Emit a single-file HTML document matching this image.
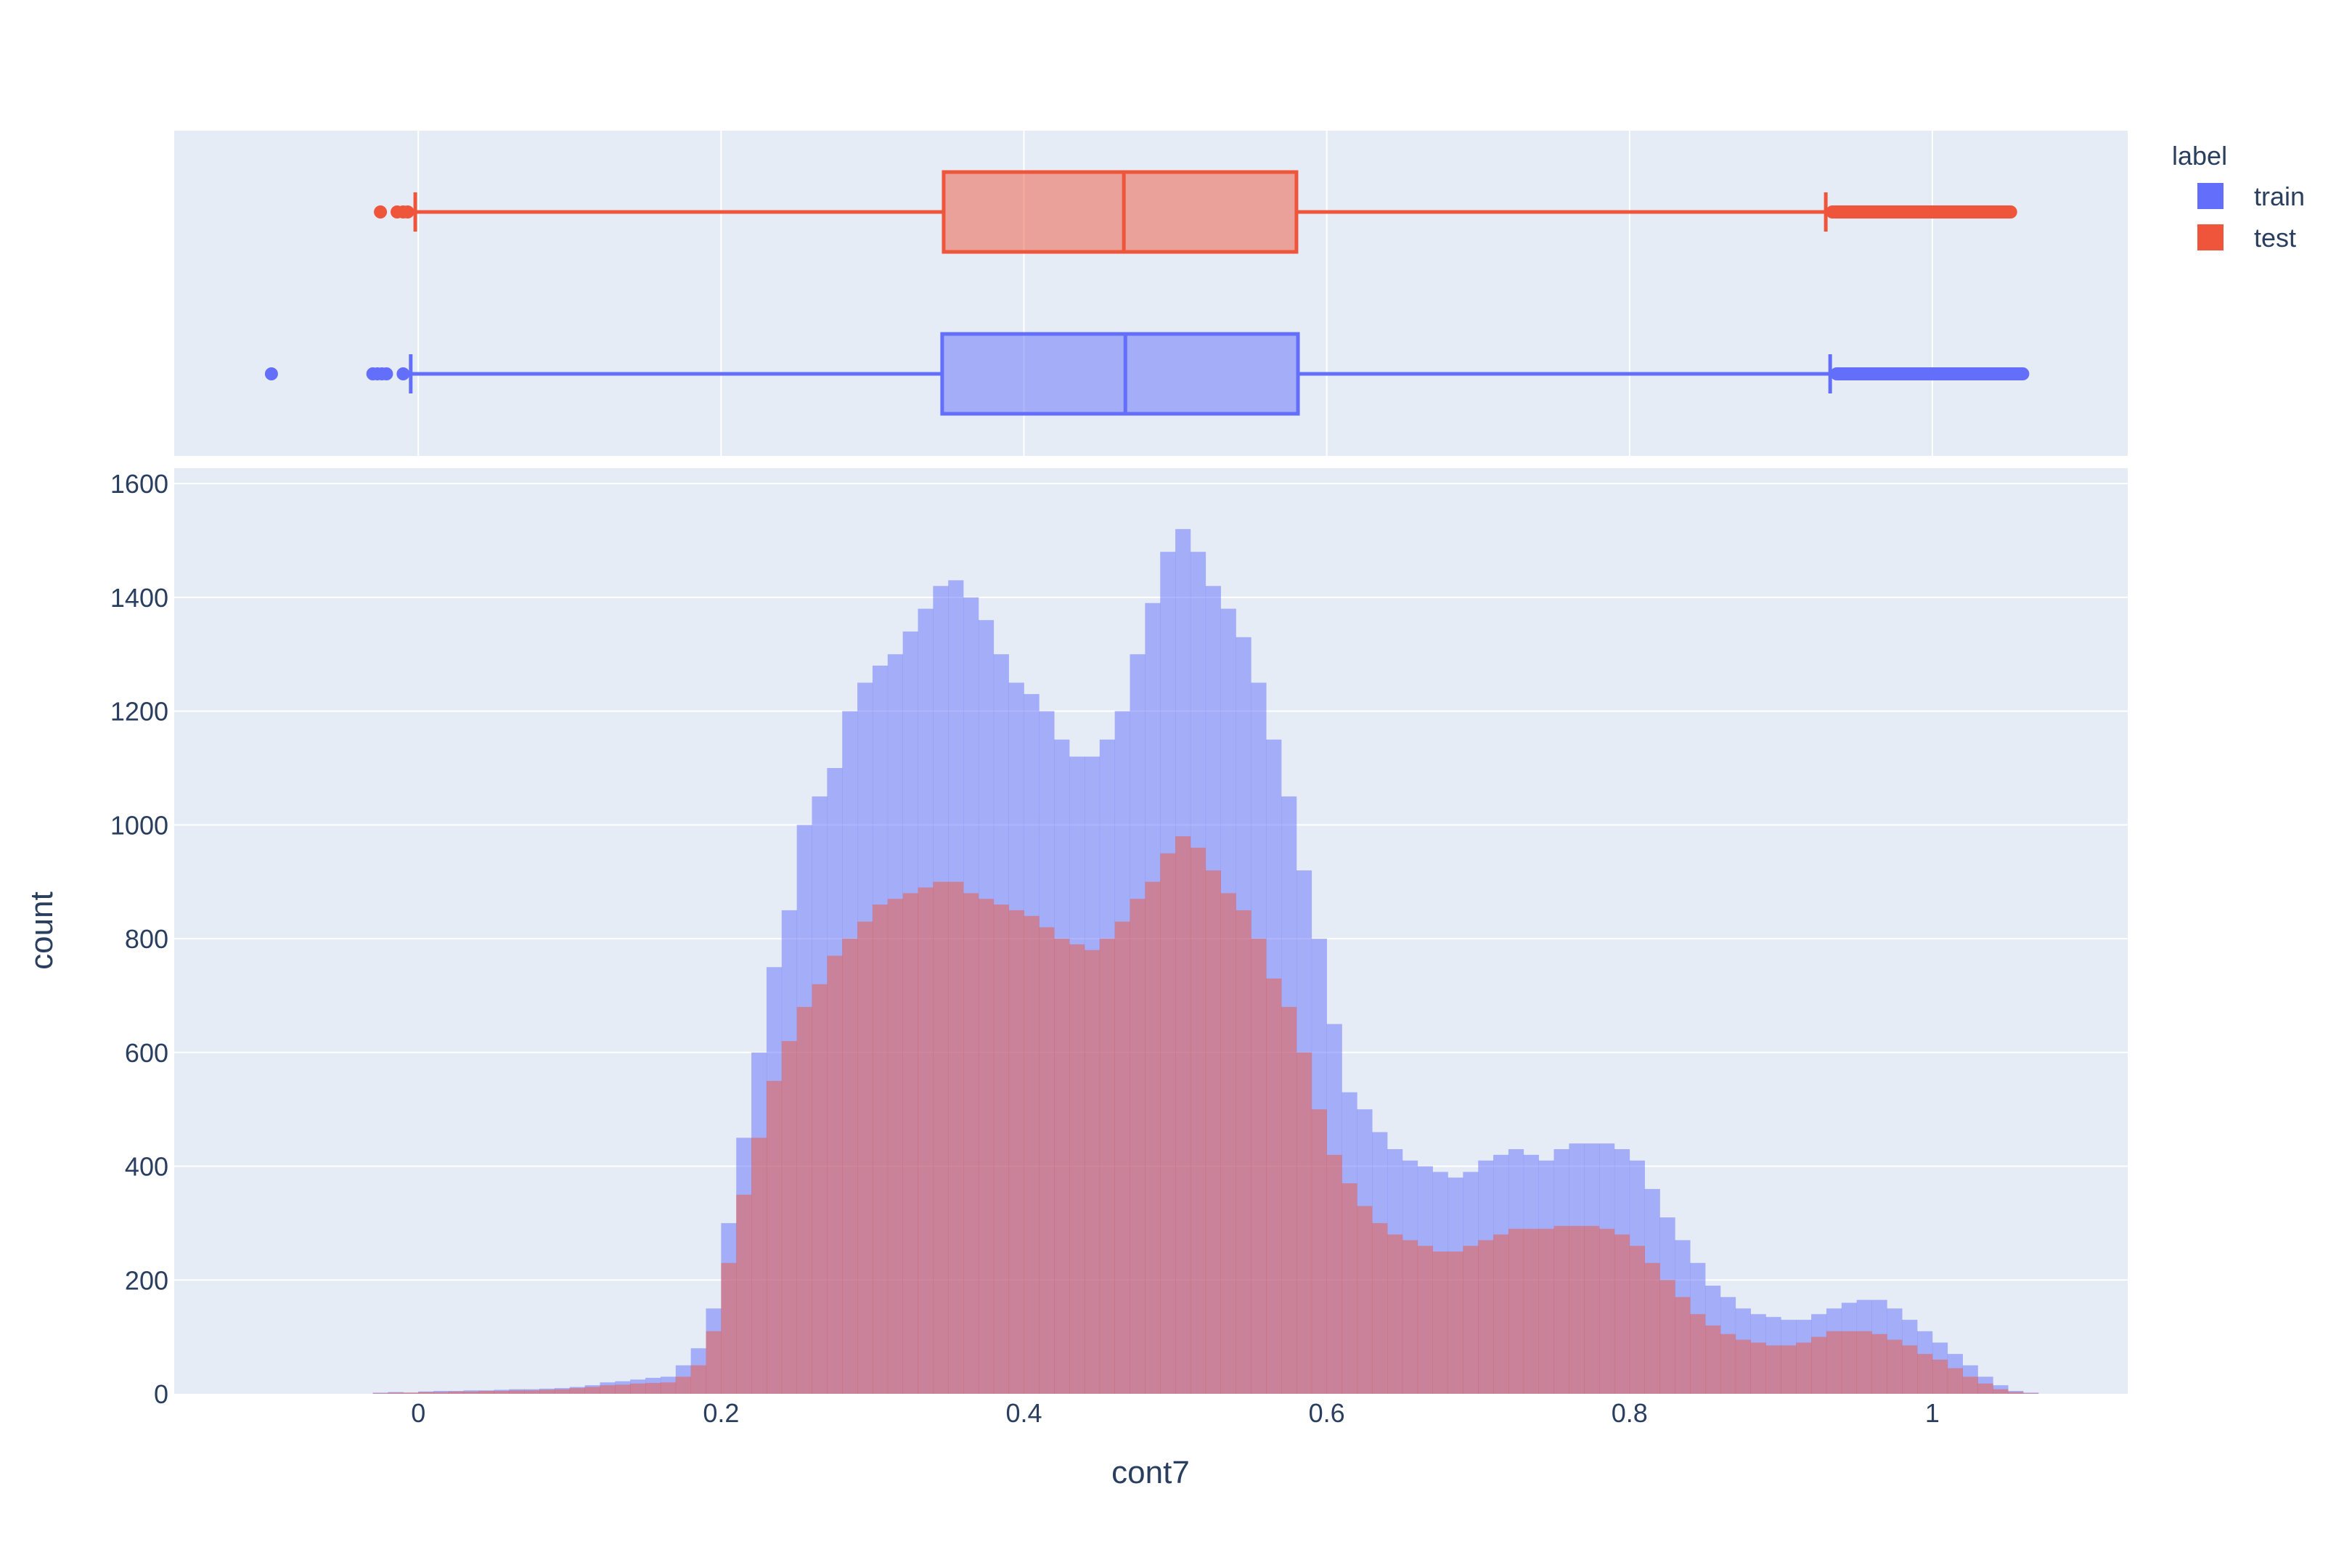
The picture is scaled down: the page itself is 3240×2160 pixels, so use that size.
<!DOCTYPE html>
<html><head><meta charset="utf-8"><style>
html,body{margin:0;padding:0;background:#fff;}
svg{display:block;font-family:"Liberation Sans","DejaVu Sans",sans-serif;}
</style></head>
<body>
<svg id="chart" width="3240" height="2160" viewBox="0 0 3240 2160" xmlns="http://www.w3.org/2000/svg">
<rect x="0" y="0" width="3240" height="2160" fill="#fff"/>
<rect x="240" y="180" width="2691" height="448" fill="#E5ECF6"/>
<rect x="240" y="645" width="2691" height="1275" fill="#E5ECF6"/>
<g id="grid"></g>
<g id="hist"></g>
<g id="boxes"></g>
<g id="axes"></g>
<text x="1585" y="2043" font-size="44" fill="#2a3f5f" text-anchor="middle">cont7</text>
<text transform="translate(72,1282) rotate(-90)" font-size="44" fill="#2a3f5f" text-anchor="middle">count</text>
<g>
<text x="2992" y="227" font-size="36" fill="#2a3f5f">label</text>
<g>
<rect x="3027" y="252" width="36" height="36" fill="#636efa"/>
<text x="3105" y="283" font-size="36" fill="#2a3f5f">train</text>
</g>
<g>
<rect x="3027" y="309" width="36" height="36" fill="#EF553B"/>
<text x="3105" y="340" font-size="36" fill="#2a3f5f">test</text>
</g>
</g>
</svg>
<script>
// ---- data ----
const binStart = -0.03;
const binWidth = 0.01;
const trainCounts = [2,3,2,4,5,5,6,6,7,8,8,9,10,12,15,20,22,25,28,30,50,80,150,300,450,600,750,850,1000,1050,1100,1200,1250,1280,1300,1340,1380,1420,1430,1400,1360,1300,1250,1230,1200,1150,1120,1120,1150,1200,1300,1390,1480,1520,1480,1420,1380,1330,1250,1150,1050,920,800,650,530,500,460,430,410,400,390,380,390,410,420,430,420,410,430,440,440,440,430,410,360,310,270,230,190,170,150,140,135,130,130,140,150,160,165,165,150,130,110,90,70,50,30,15,5,2];
const testCounts = [1,2,2,3,3,4,4,5,5,6,6,7,8,10,12,15,16,18,19,20,30,50,110,230,350,450,550,620,680,720,770,800,830,860,870,880,890,900,900,880,870,860,850,840,820,800,790,780,800,830,870,900,950,980,960,920,880,850,800,730,680,600,500,420,370,330,300,280,270,260,250,250,260,270,280,290,290,290,295,295,295,290,280,260,230,200,170,140,120,105,95,90,85,85,90,100,110,110,110,105,95,85,70,60,45,30,18,8,3,1];
const xTicks = [0,0.2,0.4,0.6,0.8,1];
const xTickLabels = ["0","0.2","0.4","0.6","0.8","1"];
const yTicks = [0,200,400,600,800,1000,1200,1400,1600];
// box stats: [lowerFence, q1, median, q3, upperFence]
const trainBox = [-0.005,0.346,0.467,0.581,0.9325];
const testBox = [-0.002,0.347,0.466,0.580,0.9296];
const trainLowOutliers = [-0.097,-0.030,-0.027,-0.024,-0.021,-0.010];
const testLowOutliers = [-0.025,-0.014,-0.010,-0.007];
const trainHighOutlierMax = 1.064;
const testHighOutlierMax = 1.056;

// ---- axes ----
const NS = "http://www.w3.org/2000/svg";
const xMin = -0.1612, xMax = 1.129, pxL = 240, pxR = 2931;
const yMax = 1627, pyB = 1920, pyT = 645;
function X(v){ return pxL + (v - xMin) / (xMax - xMin) * (pxR - pxL); }
function Y(v){ return pyB - v / yMax * (pyB - pyT); }
function mk(tag, attrs, parent){ const e = document.createElementNS(NS, tag); for (const k in attrs) e.setAttribute(k, attrs[k]); parent.appendChild(e); return e; }

const grid = document.getElementById('grid');
const axes = document.getElementById('axes');
xTicks.forEach((t, i) => {
  const l1 = mk('line', {x1:X(t), x2:X(t), y1:180, y2:628, stroke:'#fff', 'stroke-width':2}, grid);
  
  
  const tx = mk('text', {x:X(t), y:1959, 'font-size':36, fill:'#2a3f5f', 'text-anchor':'middle'}, axes);
  tx.textContent = xTickLabels[i];
  
  
});
yTicks.forEach(t => {
  if (t > 0) {
    const l = mk('line', {x1:240, x2:2931, y1:Y(t), y2:Y(t), stroke:'#fff', 'stroke-width':2}, grid);
    
    
  }
  const tx = mk('text', {x:232, y:Y(t)+13, 'font-size':36, fill:'#2a3f5f', 'text-anchor':'end'}, axes);
  tx.textContent = String(t);
  
  
});

// ---- histogram ----
const hist = document.getElementById('hist');
function drawHist(counts, color, name){
  const g = mk('g', {}, hist);
  
  
  counts.forEach((c, i) => {
    const x0 = binStart + i * binWidth;
    const r = mk('rect', {x:X(x0), y:Y(c), width:X(x0+binWidth)-X(x0)+0.3, height:Y(0)-Y(c), fill:color}, g);
    
    
  });
}
drawHist(trainCounts, 'rgba(99,110,250,0.5)', 'histogram-train');
drawHist(testCounts, 'rgba(239,85,59,0.5)', 'histogram-test');

// ---- boxes ----
const boxes = document.getElementById('boxes');
function drawBox(s, cy, color, fill, lows, highMax, name){
  const g = mk('g', {}, boxes);
  
  
  const h = 55, sw = 5;
  mk('line', {x1:X(s[0]), x2:X(s[1]), y1:cy, y2:cy, stroke:color, 'stroke-width':sw}, g);
  mk('line', {x1:X(s[3]), x2:X(s[4]), y1:cy, y2:cy, stroke:color, 'stroke-width':sw}, g);
  mk('line', {x1:X(s[0]), x2:X(s[0]), y1:cy-27, y2:cy+27, stroke:color, 'stroke-width':sw}, g);
  mk('line', {x1:X(s[4]), x2:X(s[4]), y1:cy-27, y2:cy+27, stroke:color, 'stroke-width':sw}, g);
  mk('rect', {x:X(s[1]), y:cy-h, width:X(s[3])-X(s[1]), height:2*h, fill:fill, stroke:color, 'stroke-width':sw}, g);
  mk('line', {x1:X(s[2]), x2:X(s[2]), y1:cy-h, y2:cy+h, stroke:color, 'stroke-width':sw}, g);
  lows.forEach(v => { mk('circle', {cx:X(v), cy:cy, r:9, fill:color}, g); });
  mk('rect', {x:X(s[4]), y:cy-9, width:X(highMax)-X(s[4]), height:18, rx:9, fill:color}, g);
}
drawBox(testBox, 292, '#EF553B', 'rgba(239,85,59,0.5)', testLowOutliers, testHighOutlierMax, 'box-test');
drawBox(trainBox, 515, '#636efa', 'rgba(99,110,250,0.5)', trainLowOutliers, trainHighOutlierMax, 'box-train');
</script>
</body></html>
